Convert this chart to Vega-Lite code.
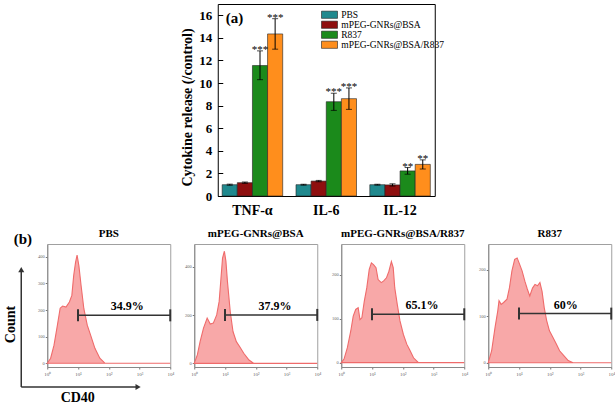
{
  "$schema": "https://vega.github.io/schema/vega-lite/v6.json",
  "background": "white",
  "padding": {"left": 2, "top": 3, "right": 0, "bottom": 0},
  "center": true,
  "spacing": 9,
  "resolve": {"scale": {"color": "independent"}, "legend": {"color": "independent"}},
  "config": {
    "font": "Liberation Serif",
    "title": {"font": "Liberation Serif", "fontSize": 11, "fontWeight": "bold", "color": "black", "offset": 5},
    "axis": {"grid": false, "labelFont": "Liberation Serif", "titleFont": "Liberation Serif"}
  },
  "datasets": {
    "cyto": [
      {"cytokine": "TNF-α", "group": "PBS", "value": 1.0, "lo": 0.95, "hi": 1.05, "sig": ""},
      {"cytokine": "TNF-α", "group": "mPEG-GNRs@BSA", "value": 1.18, "lo": 1.12, "hi": 1.24, "sig": ""},
      {"cytokine": "TNF-α", "group": "R837", "value": 11.55, "lo": 10.3, "hi": 12.85, "sig": "***"},
      {"cytokine": "TNF-α", "group": "mPEG-GNRs@BSA/R837", "value": 14.35, "lo": 13.0, "hi": 15.7, "sig": "***"},
      {"cytokine": "IL-6", "group": "PBS", "value": 1.0, "lo": 0.96, "hi": 1.04, "sig": ""},
      {"cytokine": "IL-6", "group": "mPEG-GNRs@BSA", "value": 1.32, "lo": 1.26, "hi": 1.38, "sig": ""},
      {"cytokine": "IL-6", "group": "R837", "value": 8.35, "lo": 7.58, "hi": 9.1, "sig": "***"},
      {"cytokine": "IL-6", "group": "mPEG-GNRs@BSA/R837", "value": 8.62, "lo": 7.67, "hi": 9.57, "sig": "***"},
      {"cytokine": "IL-12", "group": "PBS", "value": 1.0, "lo": 0.96, "hi": 1.04, "sig": ""},
      {"cytokine": "IL-12", "group": "mPEG-GNRs@BSA", "value": 0.98, "lo": 0.88, "hi": 1.08, "sig": ""},
      {"cytokine": "IL-12", "group": "R837", "value": 2.22, "lo": 1.93, "hi": 2.52, "sig": "**"},
      {"cytokine": "IL-12", "group": "mPEG-GNRs@BSA/R837", "value": 2.8, "lo": 2.39, "hi": 3.2, "sig": "**"}
    ],
    "hist": [
      {"panel": "PBS", "cd40": 1, "count": 0}, {"panel": "PBS", "cd40": 1.29, "count": 19}, {"panel": "PBS", "cd40": 1.66, "count": 68},
      {"panel": "PBS", "cd40": 2.14, "count": 143}, {"panel": "PBS", "cd40": 2.63, "count": 207}, {"panel": "PBS", "cd40": 3.16, "count": 215},
      {"panel": "PBS", "cd40": 4.07, "count": 211}, {"panel": "PBS", "cd40": 5.25, "count": 230}, {"panel": "PBS", "cd40": 6.31, "count": 255},
      {"panel": "PBS", "cd40": 7.24, "count": 329}, {"panel": "PBS", "cd40": 8.32, "count": 379}, {"panel": "PBS", "cd40": 9.33, "count": 406},
      {"panel": "PBS", "cd40": 10.7, "count": 366}, {"panel": "PBS", "cd40": 12.6, "count": 292}, {"panel": "PBS", "cd40": 15.5, "count": 205},
      {"panel": "PBS", "cd40": 20, "count": 143}, {"panel": "PBS", "cd40": 25.7, "count": 106}, {"panel": "PBS", "cd40": 35.5, "count": 56},
      {"panel": "PBS", "cd40": 51.3, "count": 19}, {"panel": "PBS", "cd40": 75.9, "count": 0}, {"panel": "PBS", "cd40": 10000, "count": 0},

      {"panel": "mPEG-GNRs@BSA", "cd40": 1, "count": 0}, {"panel": "mPEG-GNRs@BSA", "cd40": 1.26, "count": 35}, {"panel": "mPEG-GNRs@BSA", "cd40": 1.55, "count": 90},
      {"panel": "mPEG-GNRs@BSA", "cd40": 2.0, "count": 146}, {"panel": "mPEG-GNRs@BSA", "cd40": 2.63, "count": 188}, {"panel": "mPEG-GNRs@BSA", "cd40": 3.31, "count": 163},
      {"panel": "mPEG-GNRs@BSA", "cd40": 4.17, "count": 167}, {"panel": "mPEG-GNRs@BSA", "cd40": 5.37, "count": 201}, {"panel": "mPEG-GNRs@BSA", "cd40": 6.46, "count": 257},
      {"panel": "mPEG-GNRs@BSA", "cd40": 7.41, "count": 354}, {"panel": "mPEG-GNRs@BSA", "cd40": 8.32, "count": 437}, {"panel": "mPEG-GNRs@BSA", "cd40": 9.55, "count": 465},
      {"panel": "mPEG-GNRs@BSA", "cd40": 10.7, "count": 424}, {"panel": "mPEG-GNRs@BSA", "cd40": 12.0, "count": 340}, {"panel": "mPEG-GNRs@BSA", "cd40": 14.8, "count": 215},
      {"panel": "mPEG-GNRs@BSA", "cd40": 18.2, "count": 132}, {"panel": "mPEG-GNRs@BSA", "cd40": 23.4, "count": 90}, {"panel": "mPEG-GNRs@BSA", "cd40": 30.2, "count": 69},
      {"panel": "mPEG-GNRs@BSA", "cd40": 40.7, "count": 42}, {"panel": "mPEG-GNRs@BSA", "cd40": 60.3, "count": 14}, {"panel": "mPEG-GNRs@BSA", "cd40": 87.1, "count": 0},
      {"panel": "mPEG-GNRs@BSA", "cd40": 10000, "count": 0},

      {"panel": "mPEG-GNRs@BSA/R837", "cd40": 1, "count": 0}, {"panel": "mPEG-GNRs@BSA/R837", "cd40": 1.23, "count": 8}, {"panel": "mPEG-GNRs@BSA/R837", "cd40": 1.58, "count": 34},
      {"panel": "mPEG-GNRs@BSA/R837", "cd40": 2.04, "count": 72}, {"panel": "mPEG-GNRs@BSA/R837", "cd40": 2.45, "count": 106}, {"panel": "mPEG-GNRs@BSA/R837", "cd40": 2.95, "count": 121},
      {"panel": "mPEG-GNRs@BSA/R837", "cd40": 3.55, "count": 125}, {"panel": "mPEG-GNRs@BSA/R837", "cd40": 4.07, "count": 98}, {"panel": "mPEG-GNRs@BSA/R837", "cd40": 4.68, "count": 102},
      {"panel": "mPEG-GNRs@BSA/R837", "cd40": 5.62, "count": 140}, {"panel": "mPEG-GNRs@BSA/R837", "cd40": 6.76, "count": 170}, {"panel": "mPEG-GNRs@BSA/R837", "cd40": 8.13, "count": 212},
      {"panel": "mPEG-GNRs@BSA/R837", "cd40": 9.55, "count": 227}, {"panel": "mPEG-GNRs@BSA/R837", "cd40": 11.2, "count": 223}, {"panel": "mPEG-GNRs@BSA/R837", "cd40": 13.5, "count": 216},
      {"panel": "mPEG-GNRs@BSA/R837", "cd40": 15.8, "count": 189}, {"panel": "mPEG-GNRs@BSA/R837", "cd40": 20, "count": 182}, {"panel": "mPEG-GNRs@BSA/R837", "cd40": 24, "count": 186},
      {"panel": "mPEG-GNRs@BSA/R837", "cd40": 29.5, "count": 193}, {"panel": "mPEG-GNRs@BSA/R837", "cd40": 35.5, "count": 208}, {"panel": "mPEG-GNRs@BSA/R837", "cd40": 42.7, "count": 230},
      {"panel": "mPEG-GNRs@BSA/R837", "cd40": 49, "count": 216}, {"panel": "mPEG-GNRs@BSA/R837", "cd40": 55, "count": 170}, {"panel": "mPEG-GNRs@BSA/R837", "cd40": 66.1, "count": 133},
      {"panel": "mPEG-GNRs@BSA/R837", "cd40": 81.3, "count": 95}, {"panel": "mPEG-GNRs@BSA/R837", "cd40": 105, "count": 64}, {"panel": "mPEG-GNRs@BSA/R837", "cd40": 135, "count": 42},
      {"panel": "mPEG-GNRs@BSA/R837", "cd40": 174, "count": 27}, {"panel": "mPEG-GNRs@BSA/R837", "cd40": 224, "count": 11}, {"panel": "mPEG-GNRs@BSA/R837", "cd40": 324, "count": 0},
      {"panel": "mPEG-GNRs@BSA/R837", "cd40": 10000, "count": 0},

      {"panel": "R837", "cd40": 1, "count": 0}, {"panel": "R837", "cd40": 1.29, "count": 26}, {"panel": "R837", "cd40": 1.66, "count": 76},
      {"panel": "R837", "cd40": 2.04, "count": 112}, {"panel": "R837", "cd40": 2.24, "count": 134}, {"panel": "R837", "cd40": 2.63, "count": 126},
      {"panel": "R837", "cd40": 3.16, "count": 130}, {"panel": "R837", "cd40": 4.07, "count": 137}, {"panel": "R837", "cd40": 4.9, "count": 162},
      {"panel": "R837", "cd40": 5.89, "count": 198}, {"panel": "R837", "cd40": 7.24, "count": 223}, {"panel": "R837", "cd40": 8.71, "count": 226},
      {"panel": "R837", "cd40": 10.5, "count": 212}, {"panel": "R837", "cd40": 12.6, "count": 198}, {"panel": "R837", "cd40": 15.5, "count": 176},
      {"panel": "R837", "cd40": 18.6, "count": 159}, {"panel": "R837", "cd40": 22.4, "count": 144}, {"panel": "R837", "cd40": 27.5, "count": 161},
      {"panel": "R837", "cd40": 33.1, "count": 169}, {"panel": "R837", "cd40": 39.8, "count": 166}, {"panel": "R837", "cd40": 47.9, "count": 173},
      {"panel": "R837", "cd40": 56.2, "count": 154}, {"panel": "R837", "cd40": 66.1, "count": 119}, {"panel": "R837", "cd40": 79.4, "count": 91},
      {"panel": "R837", "cd40": 97.7, "count": 69}, {"panel": "R837", "cd40": 126, "count": 55}, {"panel": "R837", "cd40": 162, "count": 41},
      {"panel": "R837", "cd40": 209, "count": 26}, {"panel": "R837", "cd40": 282, "count": 16}, {"panel": "R837", "cd40": 398, "count": 5},
      {"panel": "R837", "cd40": 575, "count": 0}, {"panel": "R837", "cd40": 10000, "count": 0}
    ],
    "gates": [
      {"panel": "PBS", "level": 180, "start": 10, "end": 10000, "label_at": 400, "label": "34.9%"},
      {"panel": "mPEG-GNRs@BSA", "level": 201, "start": 10, "end": 10000, "label_at": 420, "label": "37.9%"},
      {"panel": "mPEG-GNRs@BSA/R837", "level": 110, "start": 10, "end": 10000, "label_at": 420, "label": "65.1%"},
      {"panel": "R837", "level": 106, "start": 10, "end": 10000, "label_at": 330, "label": "60%"}
    ]
  },
  "vconcat": [
    {
      "width": 217,
      "height": 192,
      "view": {"stroke": "black", "strokeWidth": 1},
      "title": {"text": "(a)", "anchor": "start", "frame": "group", "offset": 0, "dx": 8, "dy": 22, "fontSize": 15, "fontWeight": "bold"},
      "data": {"name": "cyto"},
      "encoding": {
        "x": {
          "field": "cytokine", "type": "nominal", "sort": ["TNF-α", "IL-6", "IL-12"],
          "scale": {"paddingInner": 0.18, "paddingOuter": 0.06},
          "axis": {"title": null, "labelAngle": 0, "labelFontSize": 14, "labelFontWeight": "bold", "labelColor": "black", "ticks": false, "domain": false, "labelPadding": 7}
        },
        "xOffset": {
          "field": "group", "type": "nominal", "sort": ["PBS", "mPEG-GNRs@BSA", "R837", "mPEG-GNRs@BSA/R837"],
          "scale": {"paddingInner": 0, "paddingOuter": 0}
        }
      },
      "layer": [
        {
          "mark": {"type": "bar", "stroke": "#222", "strokeWidth": 0.6},
          "encoding": {
            "y": {
              "field": "value", "type": "quantitative",
              "scale": {"domain": [0, 17], "nice": false},
              "axis": {"values": [0, 2, 4, 6, 8, 10, 12, 14, 16], "tickCount": 9, "labelOverlap": false, "title": "Cytokine release (/control)", "titleFontSize": 14, "titleFontWeight": "bold", "titleColor": "black", "titleX": -23, "titleY": 103, "labelFontSize": 13, "labelFontWeight": "bold", "labelColor": "black", "domain": false, "tickSize": -5, "tickColor": "black", "labelPadding": 11}
            },
            "color": {
              "field": "group", "type": "nominal",
              "scale": {"domain": ["PBS", "mPEG-GNRs@BSA", "R837", "mPEG-GNRs@BSA/R837"], "range": ["#20898E", "#8E0F0F", "#1B8A1B", "#FF8E1C"]},
              "legend": {
                "title": null, "orient": "none", "legendX": 107, "legendY": 6, "padding": 0,
                "symbolType": "M-2,-0.9H2V0.9H-2Z", "symbolSize": 64, "symbolStrokeColor": "#222", "symbolStrokeWidth": 0.6,
                "labelFont": "Liberation Serif", "labelFontSize": 9.5, "labelColor": "black", "labelOffset": 7, "rowPadding": -2
              }
            }
          }
        },
        {
          "mark": {"type": "rule", "color": "black", "strokeWidth": 1},
          "encoding": {
            "y": {"field": "lo", "type": "quantitative",
                  "axis": {"values": [0, 2, 4, 6, 8, 10, 12, 14, 16], "tickCount": 9, "labelOverlap": false, "title": "Cytokine release (/control)", "titleFontSize": 14, "titleFontWeight": "bold", "titleColor": "black", "titleX": -23, "titleY": 103, "labelFontSize": 13, "labelFontWeight": "bold", "labelColor": "black", "domain": false, "tickSize": -5, "tickColor": "black", "labelPadding": 11}},
            "y2": {"field": "hi"}
          }
        },
        {
          "mark": {"type": "tick", "color": "black", "thickness": 1, "size": 6},
          "encoding": {
            "y": {"field": "lo", "type": "quantitative",
                  "axis": {"values": [0, 2, 4, 6, 8, 10, 12, 14, 16], "tickCount": 9, "labelOverlap": false, "title": "Cytokine release (/control)", "titleFontSize": 14, "titleFontWeight": "bold", "titleColor": "black", "titleX": -23, "titleY": 103, "labelFontSize": 13, "labelFontWeight": "bold", "labelColor": "black", "domain": false, "tickSize": -5, "tickColor": "black", "labelPadding": 11}}
          }
        },
        {
          "mark": {"type": "tick", "color": "black", "thickness": 1, "size": 6},
          "encoding": {
            "y": {"field": "hi", "type": "quantitative",
                  "axis": {"values": [0, 2, 4, 6, 8, 10, 12, 14, 16], "tickCount": 9, "labelOverlap": false, "title": "Cytokine release (/control)", "titleFontSize": 14, "titleFontWeight": "bold", "titleColor": "black", "titleX": -23, "titleY": 103, "labelFontSize": 13, "labelFontWeight": "bold", "labelColor": "black", "domain": false, "tickSize": -5, "tickColor": "black", "labelPadding": 11}}
          }
        },
        {
          "mark": {"type": "text", "fontSize": 11, "baseline": "alphabetic", "dy": 2, "color": "black"},
          "encoding": {
            "y": {"field": "hi", "type": "quantitative",
                  "axis": {"values": [0, 2, 4, 6, 8, 10, 12, 14, 16], "tickCount": 9, "labelOverlap": false, "title": "Cytokine release (/control)", "titleFontSize": 14, "titleFontWeight": "bold", "titleColor": "black", "titleX": -23, "titleY": 103, "labelFontSize": 13, "labelFontWeight": "bold", "labelColor": "black", "domain": false, "tickSize": -5, "tickColor": "black", "labelPadding": 11}},
            "text": {"field": "sig"}
          }
        }
      ]
    },
    {
      "title": {"text": "(b)", "anchor": "start", "frame": "bounds", "fontSize": 15, "dx": 11, "dy": 19, "offset": 0},
      "spacing": 8,
      "hconcat": [
        {
          "width": 123, "height": 123,
          "view": {"stroke": "#a0a0a0", "strokeWidth": 1},
          "title": {"text": "PBS"},
          "resolve": {"scale": {"x": "independent", "y": "independent"}},
          "layer": [
            {
              "data": {"name": "hist"},
              "transform": [{"filter": "datum.panel === 'PBS'"}],
              "mark": {"type": "area", "fill": "#F8A8A8", "stroke": "#EF6B6B", "strokeWidth": 1.1},
              "encoding": {
                "x": {"field": "cd40", "type": "quantitative", "scale": {"type": "log", "domain": [1, 10000], "nice": false},
                      "axis": {"values": [1, 10, 100, 1000, 10000], "labelExpr": "'10' + ['⁰','¹','²','³','⁴'][round(log(datum.value)/LN10)]", "title": null, "labelFontSize": 5, "labelColor": "#666", "tickSize": 2, "tickColor": "#777", "domainColor": "#888", "labelPadding": 2, "labelFlush": false}},
                "y": {"field": "count", "type": "quantitative", "scale": {"domain": [-14, 448], "nice": false, "zero": false},
                      "axis": {"values": [0, 100, 200, 300, 400], "title": null, "labelFontSize": 4.5, "labelColor": "#666", "tickSize": 2, "tickColor": "#777", "domainColor": "#888", "labelPadding": 1}},
                "y2": {"datum": 0}
              }
            },
            {
              "data": {"name": "gates"},
              "transform": [{"filter": "datum.panel === 'PBS'"}],
              "layer": [
                {
                  "mark": {"type": "rule", "color": "#333", "strokeWidth": 1.5},
                  "encoding": {
                    "x": {"field": "start", "type": "quantitative", "scale": {"type": "log", "domain": [1, 10000], "nice": false},
                          "axis": {"orient": "bottom", "offset": 20, "domain": false, "labels": false, "ticks": false,
                                   "title": "CD40", "titleX": 30, "titleFontSize": 14, "titleFontWeight": "bold", "titleColor": "black", "titlePadding": 3}},
                    "x2": {"field": "end"},
                    "y": {"field": "level", "type": "quantitative", "scale": {"domain": [-14, 448], "nice": false, "zero": false},
                          "axis": {"orient": "left", "offset": 26, "domain": false, "labels": false, "ticks": false,
                                   "title": "Count", "titleY": 80, "titleFontSize": 14, "titleFontWeight": "bold", "titleColor": "black", "titlePadding": 4}}
                  }
                },
                {"mark": {"type": "point", "shape": "M0,-1V1", "size": 144, "stroke": "#333", "strokeWidth": 2, "filled": false, "opacity": 1},
                 "encoding": {"x": {"field": "start", "type": "quantitative"}, "y": {"field": "level", "type": "quantitative"}}},
                {"mark": {"type": "point", "shape": "M0,-1V1", "size": 144, "stroke": "#333", "strokeWidth": 2, "filled": false, "opacity": 1},
                 "encoding": {"x": {"field": "end", "type": "quantitative"}, "y": {"field": "level", "type": "quantitative"}}},
                {"mark": {"type": "text", "fontSize": 12, "fontWeight": "bold", "baseline": "bottom", "dy": -2, "color": "black"},
                 "encoding": {"x": {"field": "label_at", "type": "quantitative"}, "y": {"field": "level", "type": "quantitative"}, "text": {"field": "label"}}},
                {"mark": {"type": "rule", "color": "#333", "strokeWidth": 1.5, "clip": false},
                 "encoding": {"x": {"datum": 0.1427, "type": "quantitative"}, "y": {"datum": -89, "type": "quantitative"}, "y2": {"datum": 352}}},
                {"mark": {"type": "rule", "color": "#333", "strokeWidth": 1.5, "clip": false},
                 "encoding": {"x": {"datum": 0.1427, "type": "quantitative"}, "x2": {"datum": 900}, "y": {"datum": -89, "type": "quantitative"}}},
                {"mark": {"type": "point", "shape": "triangle-up", "size": 36, "filled": true, "color": "#333", "opacity": 1, "clip": false},
                 "encoding": {"x": {"datum": 0.1427, "type": "quantitative"}, "y": {"datum": 352, "type": "quantitative"}}},
                {"mark": {"type": "point", "shape": "triangle-right", "size": 36, "filled": true, "color": "#333", "opacity": 1, "clip": false},
                 "encoding": {"x": {"datum": 900, "type": "quantitative"}, "y": {"datum": -89, "type": "quantitative"}}}
              ]
            }
          ]
        },
        {
          "width": 123, "height": 123,
          "view": {"stroke": "#a0a0a0", "strokeWidth": 1},
          "title": {"text": "mPEG-GNRs@BSA"},
          "layer": [
            {
              "data": {"name": "hist"},
              "transform": [{"filter": "datum.panel === 'mPEG-GNRs@BSA'"}],
              "mark": {"type": "area", "fill": "#F8A8A8", "stroke": "#EF6B6B", "strokeWidth": 1.1},
              "encoding": {
                "x": {"field": "cd40", "type": "quantitative", "scale": {"type": "log", "domain": [1, 10000], "nice": false},
                      "axis": {"values": [1, 10, 100, 1000, 10000], "labelExpr": "'10' + ['⁰','¹','²','³','⁴'][round(log(datum.value)/LN10)]", "title": null, "labelFontSize": 5, "labelColor": "#666", "tickSize": 2, "tickColor": "#777", "domainColor": "#888", "labelPadding": 2, "labelFlush": false}},
                "y": {"field": "count", "type": "quantitative", "scale": {"domain": [-15, 495], "nice": false, "zero": false},
                      "axis": {"values": [0, 100, 200, 300, 400], "title": null, "labelFontSize": 4.5, "labelColor": "#666", "tickSize": 2, "tickColor": "#777", "domainColor": "#888", "labelPadding": 1}},
                "y2": {"datum": 0}
              }
            },
            {
              "data": {"name": "gates"},
              "transform": [{"filter": "datum.panel === 'mPEG-GNRs@BSA'"}],
              "encoding": {"y": {"field": "level", "type": "quantitative"}},
              "layer": [
                {"mark": {"type": "rule", "color": "#333", "strokeWidth": 1.5},
                 "encoding": {"x": {"field": "start", "type": "quantitative"}, "x2": {"field": "end"}}},
                {"mark": {"type": "point", "shape": "M0,-1V1", "size": 144, "stroke": "#333", "strokeWidth": 2, "filled": false, "opacity": 1},
                 "encoding": {"x": {"field": "start", "type": "quantitative"}}},
                {"mark": {"type": "point", "shape": "M0,-1V1", "size": 144, "stroke": "#333", "strokeWidth": 2, "filled": false, "opacity": 1},
                 "encoding": {"x": {"field": "end", "type": "quantitative"}}},
                {"mark": {"type": "text", "fontSize": 12, "fontWeight": "bold", "baseline": "bottom", "dy": -2, "color": "black"},
                 "encoding": {"x": {"field": "label_at", "type": "quantitative"}, "text": {"field": "label"}}}
              ]
            }
          ]
        },
        {
          "width": 123, "height": 123,
          "view": {"stroke": "#a0a0a0", "strokeWidth": 1},
          "title": {"text": "mPEG-GNRs@BSA/R837"},
          "layer": [
            {
              "data": {"name": "hist"},
              "transform": [{"filter": "datum.panel === 'mPEG-GNRs@BSA/R837'"}],
              "mark": {"type": "area", "fill": "#F8A8A8", "stroke": "#EF6B6B", "strokeWidth": 1.1},
              "encoding": {
                "x": {"field": "cd40", "type": "quantitative", "scale": {"type": "log", "domain": [1, 10000], "nice": false},
                      "axis": {"values": [1, 10, 100, 1000, 10000], "labelExpr": "'10' + ['⁰','¹','²','³','⁴'][round(log(datum.value)/LN10)]", "title": null, "labelFontSize": 5, "labelColor": "#666", "tickSize": 2, "tickColor": "#777", "domainColor": "#888", "labelPadding": 2, "labelFlush": false}},
                "y": {"field": "count", "type": "quantitative", "scale": {"domain": [-10, 270], "nice": false, "zero": false},
                      "axis": {"values": [0, 50, 100, 150, 200, 250], "title": null, "labelFontSize": 4.5, "labelColor": "#666", "tickSize": 2, "tickColor": "#777", "domainColor": "#888", "labelPadding": 1}},
                "y2": {"datum": 0}
              }
            },
            {
              "data": {"name": "gates"},
              "transform": [{"filter": "datum.panel === 'mPEG-GNRs@BSA/R837'"}],
              "encoding": {"y": {"field": "level", "type": "quantitative"}},
              "layer": [
                {"mark": {"type": "rule", "color": "#333", "strokeWidth": 1.5},
                 "encoding": {"x": {"field": "start", "type": "quantitative"}, "x2": {"field": "end"}}},
                {"mark": {"type": "point", "shape": "M0,-1V1", "size": 144, "stroke": "#333", "strokeWidth": 2, "filled": false, "opacity": 1},
                 "encoding": {"x": {"field": "start", "type": "quantitative"}}},
                {"mark": {"type": "point", "shape": "M0,-1V1", "size": 144, "stroke": "#333", "strokeWidth": 2, "filled": false, "opacity": 1},
                 "encoding": {"x": {"field": "end", "type": "quantitative"}}},
                {"mark": {"type": "text", "fontSize": 12, "fontWeight": "bold", "baseline": "bottom", "dy": -2, "color": "black"},
                 "encoding": {"x": {"field": "label_at", "type": "quantitative"}, "text": {"field": "label"}}}
              ]
            }
          ]
        },
        {
          "width": 123, "height": 123,
          "view": {"stroke": "#a0a0a0", "strokeWidth": 1},
          "title": {"text": "R837"},
          "layer": [
            {
              "data": {"name": "hist"},
              "transform": [{"filter": "datum.panel === 'R837'"}],
              "mark": {"type": "area", "fill": "#F8A8A8", "stroke": "#EF6B6B", "strokeWidth": 1.1},
              "encoding": {
                "x": {"field": "cd40", "type": "quantitative", "scale": {"type": "log", "domain": [1, 10000], "nice": false},
                      "axis": {"values": [1, 10, 100, 1000, 10000], "labelExpr": "'10' + ['⁰','¹','²','³','⁴'][round(log(datum.value)/LN10)]", "title": null, "labelFontSize": 5, "labelColor": "#666", "tickSize": 2, "tickColor": "#777", "domainColor": "#888", "labelPadding": 2, "labelFlush": false}},
                "y": {"field": "count", "type": "quantitative", "scale": {"domain": [-9, 256], "nice": false, "zero": false},
                      "axis": {"values": [0, 50, 100, 150, 200, 250], "title": null, "labelFontSize": 4.5, "labelColor": "#666", "tickSize": 2, "tickColor": "#777", "domainColor": "#888", "labelPadding": 1}},
                "y2": {"datum": 0}
              }
            },
            {
              "data": {"name": "gates"},
              "transform": [{"filter": "datum.panel === 'R837'"}],
              "encoding": {"y": {"field": "level", "type": "quantitative"}},
              "layer": [
                {"mark": {"type": "rule", "color": "#333", "strokeWidth": 1.5},
                 "encoding": {"x": {"field": "start", "type": "quantitative"}, "x2": {"field": "end"}}},
                {"mark": {"type": "point", "shape": "M0,-1V1", "size": 144, "stroke": "#333", "strokeWidth": 2, "filled": false, "opacity": 1},
                 "encoding": {"x": {"field": "start", "type": "quantitative"}}},
                {"mark": {"type": "point", "shape": "M0,-1V1", "size": 144, "stroke": "#333", "strokeWidth": 2, "filled": false, "opacity": 1},
                 "encoding": {"x": {"field": "end", "type": "quantitative"}}},
                {"mark": {"type": "text", "fontSize": 12, "fontWeight": "bold", "baseline": "bottom", "dy": -2, "color": "black"},
                 "encoding": {"x": {"field": "label_at", "type": "quantitative"}, "text": {"field": "label"}}}
              ]
            }
          ]
        }
      ]
    }
  ]
}
